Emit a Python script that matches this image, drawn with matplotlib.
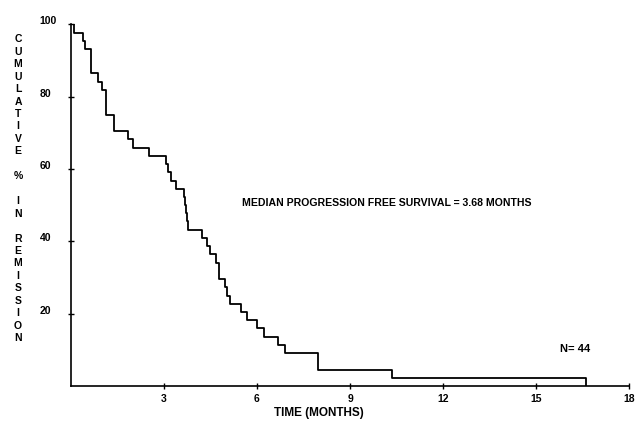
import numpy as np
import matplotlib
matplotlib.use('Agg')
import matplotlib.pyplot as plt
import matplotlib.transforms as mtransforms

# event times (months) and % in remission right after each drop
months = [0.0, 0.10, 0.40, 0.45, 0.64, 0.86, 1.01, 1.13, 1.40, 1.85, 1.99, 2.53,
          3.05, 3.14, 3.22, 3.38, 3.65, 3.68, 3.71, 3.74, 3.77,
          4.24, 4.38, 4.49, 4.68, 4.78, 4.97, 5.03, 5.12, 5.47, 5.67,
          5.99, 6.23, 6.69, 6.90, 7.98, 10.35, 16.60]
pct = [100.0, 97.7, 95.5, 93.2, 86.4, 84.1, 81.8, 75.0, 70.5, 68.2, 65.9, 63.6,
       61.4, 59.1, 56.8, 54.5, 52.3, 50.0, 47.7, 45.5, 43.2,
       40.9, 38.6, 36.4, 34.1, 29.5, 27.3, 25.0, 22.7, 20.5, 18.2,
       15.9, 13.6, 11.4, 9.1, 4.5, 2.3, 0.0]

xticks = [3, 6, 9, 12, 15, 18]
yticks = [20, 40, 60, 80, 100]
ylabel_txt = 'CUMULATIVE % IN REMISSION'
median_txt = 'MEDIAN PROGRESSION FREE SURVIVAL = 3.68 MONTHS'
n_txt = 'N= 44'

font = 'Liberation Sans'
W, H = 642, 421

fig = plt.figure(figsize=(W / 100, H / 100), dpi=100)
ax = fig.add_axes([71 / W, 1 - 386 / H, (629 - 71) / W, (386 - 24.3) / H])

ax.step(months, pct, where='post', color='black', lw=1.3)

ax.set_xlim(0, 18)
ax.set_ylim(0, 100)
ax.spines['top'].set_visible(False)
ax.spines['right'].set_visible(False)
ax.spines['left'].set_linewidth(1.2)
ax.spines['bottom'].set_linewidth(1.2)

ax.set_xticks(xticks)
ax.set_xticklabels([str(t) for t in xticks], fontfamily=font, fontweight='bold', fontsize=7.5)
ax.set_yticks(yticks)
ax.set_yticklabels([str(t) for t in yticks], fontfamily=font, fontweight='bold', fontsize=7.5)
ax.tick_params(axis='y', direction='inout', length=5, width=1, pad=20)
ax.tick_params(axis='x', direction='inout', length=5, width=1, pad=3)

shift_up = mtransforms.ScaledTranslation(0, 4 / 100, fig.dpi_scale_trans)
for lab in ax.get_yticklabels():
    lab.set_horizontalalignment('left')
    lab.set_transform(lab.get_transform() + shift_up)

# stacked vertical label
for i, ch in enumerate(ylabel_txt):
    if ch == ' ':
        continue
    fig.text(18 / W, 1 - (39.3 + i * 12.45) / H, ch, ha='center', va='center',
             fontfamily=font, fontweight='bold', fontsize=7.5)

fig.text(319 / W, 1 - 413 / H, 'TIME (MONTHS)', ha='center', va='center',
         fontfamily=font, fontweight='bold', fontsize=8.5)
fig.text(241.7 / W, 1 - 203.3 / H, median_txt, ha='left', va='center',
         fontfamily=font, fontweight='bold', fontsize=7.6)
fig.text(560 / W, 1 - 349.3 / H, n_txt, ha='left', va='center',
         fontfamily=font, fontweight='bold', fontsize=8)

fig.savefig('out.png', dpi=100)
